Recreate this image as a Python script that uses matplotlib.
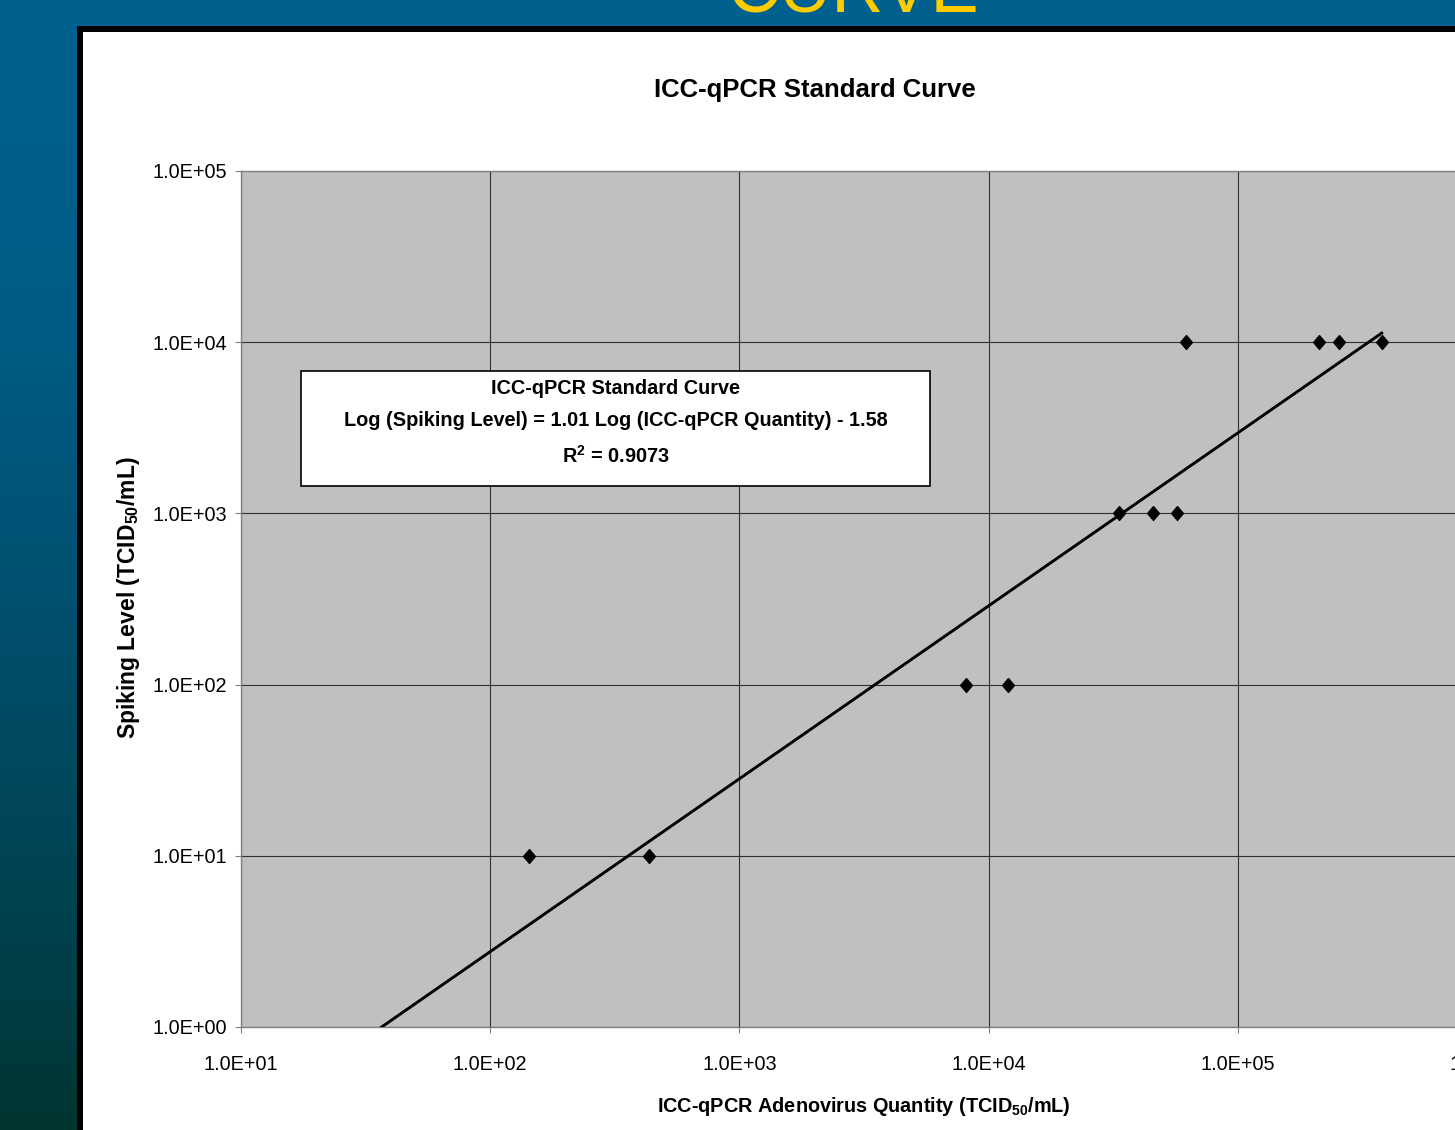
import numpy as np
import matplotlib
matplotlib.use("Agg")
import matplotlib.pyplot as plt
from matplotlib.patches import Rectangle
from matplotlib.colors import LinearSegmentedColormap

# ---------------- data ----------------
qpcr_quantity = [143, 435, 8090, 12000, 33300, 45600, 56900, 61800, 211000, 255000, 378000]
spiking_level = [10, 10, 100, 100, 1000, 1000, 1000, 10000, 10000, 10000, 10000]
fit_slope = 1.01
fit_intercept = -1.58
fit_r2 = 0.9073
x_ticks = [1e1, 1e2, 1e3, 1e4, 1e5, 1e6]
x_tick_labels = ["1.0E+01", "1.0E+02", "1.0E+03", "1.0E+04", "1.0E+05", "1.0E+06"]
y_ticks = [1e0, 1e1, 1e2, 1e3, 1e4, 1e5]
y_tick_labels = ["1.0E+00", "1.0E+01", "1.0E+02", "1.0E+03", "1.0E+04", "1.0E+05"]

W, H = 1455, 1130
plt.rcParams['font.family'] = ['Liberation Sans', 'DejaVu Sans']
plt.rcParams['mathtext.fontset'] = 'custom'
plt.rcParams['mathtext.bf'] = 'Liberation Sans:bold'
plt.rcParams['mathtext.rm'] = 'Liberation Sans:bold'
plt.rcParams['mathtext.it'] = 'Liberation Sans:italic'

fig = plt.figure(figsize=(W / 100, H / 100), dpi=100)

# background gradient
bg = fig.add_axes([0, 0, 1, 1], zorder=-10)
cmap = LinearSegmentedColormap.from_list(
    "bg", [(0.0, "#00618f"), (0.25, "#005d88"), (0.5, "#005272"),
           (0.72, "#00475a"), (0.9, "#003c42"), (1.0, "#003530")])
grad = np.linspace(0, 1, 256).reshape(-1, 1)
bg.imshow(grad, aspect='auto', cmap=cmap, extent=[0, 1, 0, 1], origin='upper')
bg.set_xlim(0, 1); bg.set_ylim(0, 1)
bg.axis('off')

# slide title fragment
fig.text(853 / W, 1 - 11 / H, "CURVE", color="#FFCC00", fontsize=52,
         ha='center', va='baseline')

# chart panel
fig.patches.append(Rectangle((77 / W, -0.05), 1.0, 1 - 26 / H + 0.05, transform=fig.transFigure,
                             facecolor='black', edgecolor='none', zorder=-5))
fig.patches.append(Rectangle((83 / W, -0.05), 1.0, 1 - 31.5 / H + 0.05, transform=fig.transFigure,
                             facecolor='white', edgecolor='none', zorder=-4))

# plot axes
ax = fig.add_axes([241 / W, 1 - 1027 / H, 1246 / W, 856 / H])
ax.set_facecolor('#C0C0C0')
ax.set_xscale('log'); ax.set_yscale('log')
ax.set_xlim(x_ticks[0], x_ticks[-1])
ax.set_ylim(y_ticks[0], y_ticks[-1])
ax.set_xticks(x_ticks)
ax.set_xticklabels(x_tick_labels)
ax.set_yticks(y_ticks)
ax.set_yticklabels(y_tick_labels)
ax.minorticks_off()
ax.grid(True, which='major', color='#303030', linewidth=0.8)
ax.set_axisbelow(True)
for s in ax.spines.values():
    s.set_color('#808080'); s.set_linewidth(1.0)
ax.tick_params(axis='both', direction='out', length=4.3, width=0.8, color='#808080')
ax.tick_params(axis='y', pad=6)
ax.tick_params(axis='x', pad=15.5)
for lab in ax.get_xticklabels() + ax.get_yticklabels():
    lab.set_fontsize(14.3)
    lab.set_color('black')

# trendline
xfit = np.logspace(np.log10(x_ticks[0]), np.log10(max(qpcr_quantity)), 200)
yfit = 10 ** (fit_slope * np.log10(xfit) + fit_intercept)
ax.plot(xfit, yfit, color='black', linewidth=2.1, zorder=3)

diamond = [(0, 1), (0.85, 0), (0, -1), (-0.85, 0), (0, 1)]
ax.plot(qpcr_quantity, spiking_level, linestyle='none', marker=diamond, markersize=10,
        color='black', zorder=4)

# equation box
ax.add_patch(Rectangle((60 / 1246, 1 - 315 / 856), 629 / 1246, 115 / 856, transform=ax.transAxes,
                       facecolor='white', edgecolor='black', linewidth=1.2, zorder=5))
bx = (615.5 - 241) / 1246
ax.text(bx, 1 - 218 / 856, "ICC-qPCR Standard Curve", transform=ax.transAxes, ha='center', va='center',
        fontsize=14.3, fontweight='bold', zorder=6)
ax.text(bx, 1 - 249 / 856, "Log (Spiking Level) = %.2f Log (ICC-qPCR Quantity) - %.2f" % (fit_slope, -fit_intercept),
        transform=ax.transAxes, ha='center', va='center', fontsize=14.3, fontweight='bold', zorder=6)
ax.text(bx, 1 - 285 / 856, r"R$^{\mathrm{2}}$ = %.4f" % fit_r2, transform=ax.transAxes, ha='center', va='center',
        fontsize=14.3, fontweight='bold', zorder=6)

# titles
fig.text(815 / W, 1 - 90.5 / H, "ICC-qPCR Standard Curve", ha='center', va='center',
         fontsize=18.5, fontweight='bold')
fig.text(864 / W, 1 - 1106 / H, r"ICC-qPCR Adenovirus Quantity (TCID$_{\mathbf{50}}$/mL)", ha='center', va='center',
         fontsize=14.3, fontweight='bold')
fig.text(128.5 / W, 1 - 598 / H, r"Spiking Level (TCID$_{\mathbf{50}}$/mL)", ha='center', va='center',
         rotation=90, fontsize=16.5, fontweight='bold')

fig.savefig("out.png", dpi=100)
